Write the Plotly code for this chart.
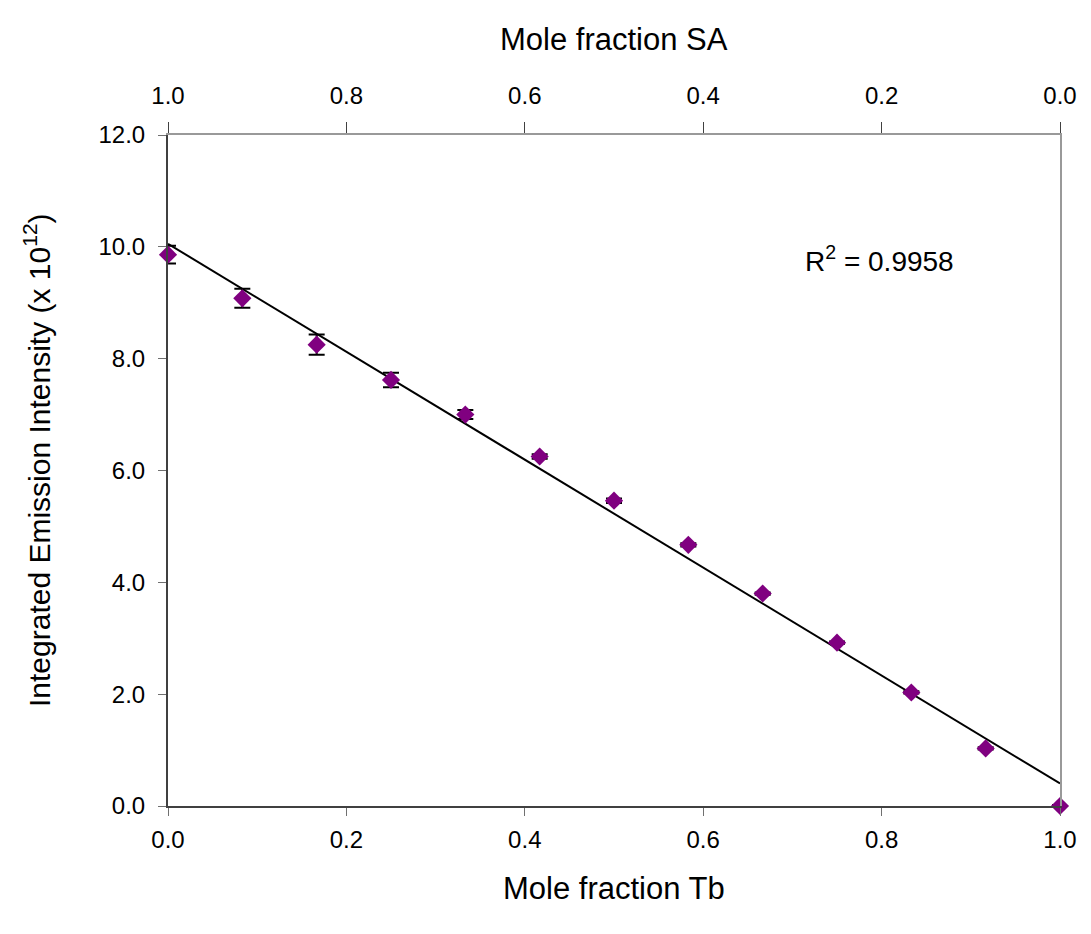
import numpy as np
import plotly.graph_objects as go

# Data
mole_fraction_tb = [i / 12 for i in range(13)]
intensity = [9.86, 9.08, 8.25, 7.62, 7.00, 6.25, 5.46, 4.67, 3.80, 2.92, 2.03, 1.03, 0.00]
err = [0.16, 0.17, 0.18, 0.13, 0.08, 0.04, 0.04, 0.03, 0.02, 0.02, 0.02, 0.02, 0.02]
r2_text = "R<sup>2</sup> = 0.9958"
x_ticks = [0.0, 0.2, 0.4, 0.6, 0.8, 1.0]
y_ticks = [0, 2, 4, 6, 8, 10, 12]

slope, intercept = np.polyfit(mole_fraction_tb, intensity, 1)
fit_x = [0.0, 1.0]
fit_y = [intercept + slope * v for v in fit_x]

FONT = "Arial, Liberation Sans, sans-serif"
TICK = 24
TITLE = 31

fig = go.Figure()
fig.add_trace(go.Scatter(x=fit_x, y=fit_y, mode="lines",
                         line=dict(color="black", width=2), showlegend=False,
                         hoverinfo="skip"))
fig.add_trace(go.Scatter(
    x=mole_fraction_tb, y=intensity, mode="markers",
    marker=dict(symbol="diamond", size=14, color="#800080"),
    error_y=dict(type="data", array=err, color="black", thickness=2, width=8),
    cliponaxis=False, showlegend=False))
# invisible trace to activate secondary axes
fig.add_trace(go.Scatter(x=[1.0, 0.0], y=[0, 12], mode="markers",
                         marker=dict(opacity=0), xaxis="x2", yaxis="y2",
                         showlegend=False, hoverinfo="skip"))

fig.update_layout(
    width=1091, height=934,
    margin=dict(l=168, r=31, t=135, b=128),
    plot_bgcolor="white", paper_bgcolor="white",
    font=dict(family=FONT, color="black", size=TICK),
    xaxis=dict(range=[0, 1], tickvals=x_ticks, tickformat=".1f",
               showline=True, linecolor="#404040", linewidth=2,
               ticks="outside", ticklen=8, tickcolor="#707070", tickwidth=1,
               showgrid=False, zeroline=False, ticklabelstandoff=3,
               tickfont=dict(size=TICK)),
    xaxis2=dict(range=[1, 0], overlaying="x", side="top", anchor="y",
                tickvals=x_ticks, tickformat=".1f",
                showline=True, linecolor="#999999", linewidth=2,
                ticks="outside", ticklen=11, tickcolor="#404040", tickwidth=1,
                showgrid=False, zeroline=False, ticklabelstandoff=8,
                tickfont=dict(size=TICK)),
    yaxis=dict(range=[0, 12], tickvals=y_ticks, tickformat=".1f",
               showline=True, linecolor="#404040", linewidth=2,
               ticks="outside", ticklen=8, tickcolor="#707070", tickwidth=1,
               showgrid=False, zeroline=False, ticklabelstandoff=8,
               tickfont=dict(size=TICK)),
    yaxis2=dict(range=[0, 12], overlaying="y", side="right", anchor="x",
                showline=True, linecolor="#999999", linewidth=2,
                showticklabels=False, ticks="", showgrid=False, zeroline=False),
    annotations=[
        dict(text=r2_text, xref="x", yref="y", x=0.798, y=9.78,
             xanchor="center", yanchor="middle",
             showarrow=False, font=dict(size=28, family=FONT)),
        dict(text="Mole fraction SA", xref="paper", yref="paper", x=0.5,
             y=(934 - 40 - 128) / 671, xanchor="center", yanchor="middle",
             showarrow=False, font=dict(size=TITLE, family=FONT)),
        dict(text="Mole fraction Tb", xref="paper", yref="paper", x=0.5,
             y=(934 - 888 - 128) / 671, xanchor="center", yanchor="middle",
             showarrow=False, font=dict(size=TITLE, family=FONT)),
        dict(text="Integrated Emission Intensity (x 10<sup>12</sup>)",
             xref="paper", yref="paper", x=(37 - 168) / 892,
             y=(934 - 460 - 128) / 671, textangle=-90, showarrow=False,
             xanchor="center", yanchor="middle",
             font=dict(size=30, family=FONT)),
    ],
)

fig.write_html("out.html")
